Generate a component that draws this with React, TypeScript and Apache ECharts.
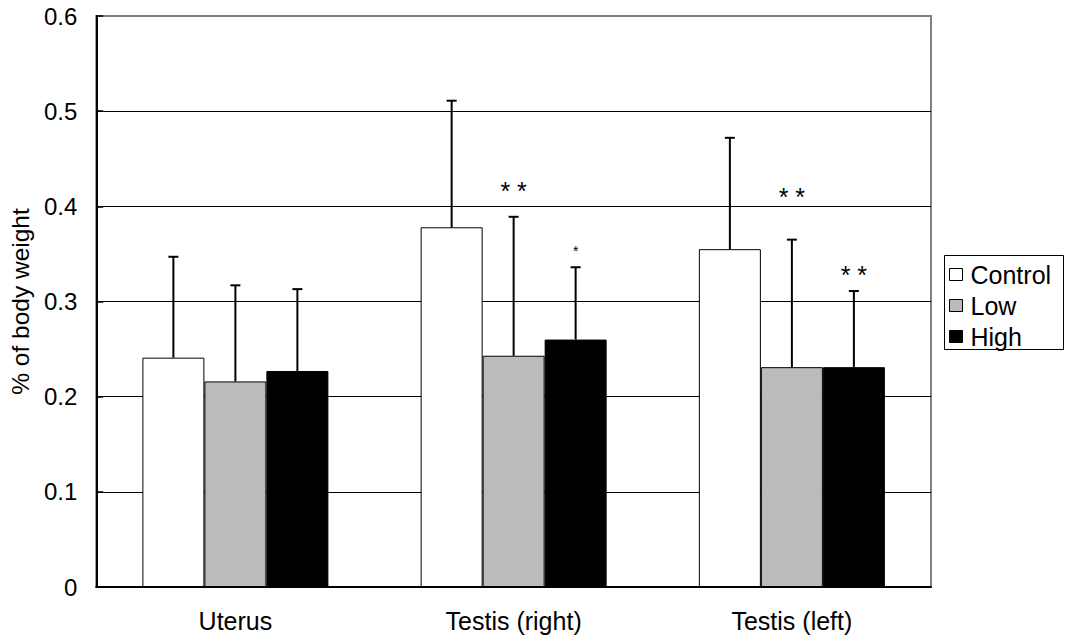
import React, { useEffect, useRef } from "react";
import * as echarts from "echarts";

const categories = ["Uterus", "Testis (right)", "Testis (left)"];
const seriesNames = ["Control", "Low", "High"];
const controlMean = [0.241, 0.378, 0.355];
const controlSD = [0.106, 0.133, 0.117];
const lowMean = [0.216, 0.243, 0.231];
const lowSD = [0.101, 0.146, 0.134];
const highMean = [0.227, 0.26, 0.231];
const highSD = [0.086, 0.076, 0.08];
const lowSig = ["", "* *", "* *"];
const lowSigY = [0, 0.422, 0.4165];
const highSig = ["", "*", "* *"];
const highSigY = [0, 0.356, 0.334];
const yTicks = [0, 0.1, 0.2, 0.3, 0.4, 0.5, 0.6];

const FONT = "'Liberation Sans', Arial, sans-serif";
const BAR_W = 62;

export default function App() {
  const ref = useRef<HTMLDivElement>(null);
  useEffect(() => {
    document.body.style.margin = "0";
    const chart = echarts.init(ref.current!, undefined, { renderer: "svg" });
    const means = [controlMean, lowMean, highMean];
    const sds = [controlSD, lowSD, highSD];
    const colors = ["#ffffff", "#bbbbbb", "#000000"];
    const errData: number[][] = [];
    means.forEach((m, s) =>
      m.forEach((v, c) => errData.push([c, v, v + sds[s][c], s]))
    );
    const sigData: any[] = [];
    lowSig.forEach((t, c) => {
      if (t) sigData.push({ value: [c, lowSigY[c], 1], label: t });
    });
    highSig.forEach((t, c) => {
      if (t) sigData.push({ value: [c, highSigY[c], 2], label: t });
    });

    const option: any = {
      animation: false,
      backgroundColor: "#ffffff",
      textStyle: { fontFamily: FONT },
      grid: {
        left: 96,
        top: 16,
        right: 134,
        bottom: 57,
        show: true,
        borderColor: "#808080",
        borderWidth: 2,
        backgroundColor: "transparent",
      },
      legend: {
        orient: "vertical",
        left: 949,
        top: 262,
        padding: 0,
        itemWidth: 13,
        itemHeight: 12,
        itemGap: 6,
        icon: "rect",
        data: seriesNames,
        itemStyle: { borderColor: "#000", borderWidth: 1 },
        textStyle: { fontSize: 25, color: "#000", fontFamily: FONT, padding: [0, 0, 0, 3] },
      },
      graphic: [
        {
          type: "rect",
          left: 942,
          top: 253,
          shape: { width: 119, height: 94 },
          style: { fill: "none", stroke: "#000", lineWidth: 1 },
          z: 0,
        },
      ],
      xAxis: {
        type: "category",
        data: categories,
        axisLine: { lineStyle: { color: "#000", width: 2 } },
        axisTick: { inside: true, length: 7, lineStyle: { color: "#000", width: 1.5 } },
        axisLabel: { fontSize: 25, color: "#000", margin: 21, fontFamily: FONT },
        splitLine: { show: false },
      },
      yAxis: {
        type: "value",
        min: 0,
        max: 0.6,
        interval: 0.1,
        name: "% of body weight",
        nameLocation: "middle",
        nameRotate: 90,
        nameGap: 62,
        nameTextStyle: { fontSize: 24.5, color: "#000", fontFamily: FONT },
        axisLine: { show: true, lineStyle: { color: "#000", width: 2 } },
        axisTick: { show: true, inside: true, length: 7, lineStyle: { color: "#000", width: 1.5 } },
        axisLabel: {
          fontSize: 24,
          color: "#000",
          margin: 19,
          fontFamily: FONT,
          formatter: (v: number) => {
            const t = yTicks.find((k) => Math.abs(k - v) < 1e-9);
            const val = t === undefined ? v : t;
            return val === 0 ? "0" : val.toFixed(1);
          },
        },
        splitLine: {
          show: true,
          lineStyle: {
            color: ["#000", "#000", "#000", "#000", "#000", "#000", "#808080"],
            width: 1.2,
          },
        },
      },
      series: [
        ...seriesNames.map((name, s) => ({
          name,
          type: "bar",
          data: means[s],
          barWidth: BAR_W,
          barGap: "0%",
          itemStyle: { color: colors[s], borderColor: "#000", borderWidth: 1 },
          z: 2,
        })),
        {
          type: "custom",
          data: errData,
          z: 3,
          silent: true,
          renderItem: (params: any, api: any) => {
            const c = api.value(0);
            const s = api.value(3);
            const p0 = api.coord([c, api.value(1)]);
            const p1 = api.coord([c, api.value(2)]);
            const x = p0[0] + (s - 1) * BAR_W;
            return {
              type: "group",
              children: [
                {
                  type: "line",
                  shape: { x1: x, y1: p0[1], x2: x, y2: p1[1] },
                  style: { stroke: "#000", lineWidth: 2 },
                },
                {
                  type: "line",
                  shape: { x1: x - 5, y1: p1[1], x2: x + 5, y2: p1[1] },
                  style: { stroke: "#000", lineWidth: 2 },
                },
              ],
            };
          },
        },
        {
          type: "custom",
          data: sigData,
          z: 4,
          silent: true,
          renderItem: (params: any, api: any) => {
            const item = sigData[params.dataIndex];
            const c = api.value(0);
            const s = api.value(2);
            const p = api.coord([c, api.value(1)]);
            const small = item.label === "*";
            return {
              type: "text",
              x: p[0] + (s - 1) * BAR_W,
              y: p[1] + (small ? 3 : 6),
              style: {
                text: item.label,
                fontSize: small ? 14 : 25,
                fontFamily: FONT,
                fill: "#000",
                align: "center",
                verticalAlign: "middle",
              },
            };
          },
        },
      ],
    };
    chart.setOption(option);
    return () => chart.dispose();
  }, []);
  return (
    <div
      ref={ref}
      style={{ position: "absolute", left: 0, top: 0, width: 1065, height: 644 }}
    />
  );
}
